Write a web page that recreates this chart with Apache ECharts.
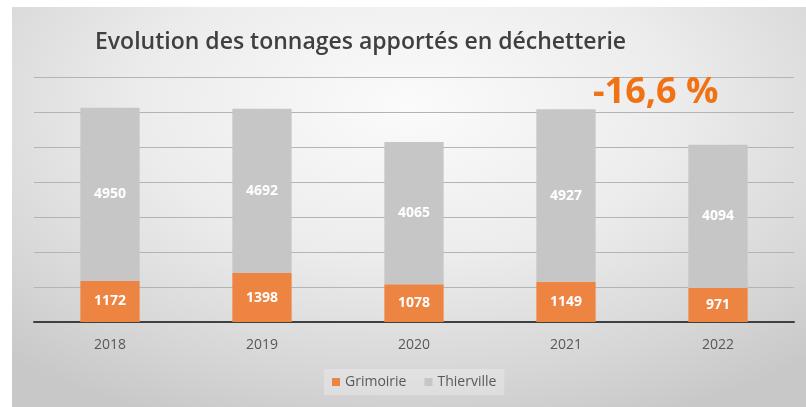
<!DOCTYPE html>
<html>
<head>
<meta charset="utf-8">
<script src="https://cdn.jsdelivr.net/npm/echarts@6/dist/echarts.min.js"></script>
<style>
  body { margin: 0; background: #fff; }
  #chart {
    position: absolute; left: 12px; top: 7px; width: 794px; height: 400px;
    background: radial-gradient(ellipse 75% 85% at 50% 25%, #fbfbfb 0%, #ececec 45%, #d6d6d6 80%, #c8c8c8 100%);
  }
</style>
</head>
<body>
<div id="chart"></div>
<script>
// data
const years = ['2018', '2019', '2020', '2021', '2022']
const grimoirie = [1172, 1398, 1078, 1149, 971]
const thierville = [4950, 4692, 4065, 4927, 4094]
const seriesNames = ['Grimoirie', 'Thierville']
const titleText = 'Evolution des tonnages apportés en déchetterie'
const noteText = '-16,6 %'

const myChart = echarts.init(document.getElementById('chart'))

const labelStyle = {
  show: true,
  position: 'inside',
  color: '#fff',
  fontFamily: 'Open Sans',
  fontWeight: 'bold',
  fontSize: 14
}

const option = {
  backgroundColor: 'transparent',
  animation: false,
  title: [
    {
      text: titleText,
      left: 78,
      top: 19,
      textStyle: { fontFamily: 'Open Sans', fontSize: 23, fontWeight: 600, color: '#404040' }
    },
    {
      text: noteText,
      left: 576,
      top: 63,
      textStyle: { fontFamily: 'Open Sans', fontSize: 36, fontWeight: 'bold', color: '#f07214' }
    }
  ],
  legend: {
    data: seriesNames,
    left: 312,
    top: 362,
    itemWidth: 8,
    itemHeight: 8,
    itemGap: 18,
    padding: [6, 8],
    backgroundColor: 'rgba(255,255,255,0.25)',
    icon: 'rect',
    textStyle: { fontFamily: 'Open Sans', fontSize: 14, color: '#595959' }
  },
  grid: { left: 22, right: 12, top: 70, bottom: 85 },
  xAxis: {
    type: 'category',
    data: years,
    axisLine: { lineStyle: { color: '#404040', width: 2 } },
    axisTick: { show: false },
    axisLabel: { margin: 16, fontFamily: 'Open Sans', fontSize: 14, color: '#595959' }
  },
  yAxis: {
    type: 'value',
    min: 0,
    max: 7000,
    interval: 1000,
    axisLabel: { show: false },
    axisLine: { show: false },
    axisTick: { show: false },
    splitLine: { lineStyle: { color: '#b4b4b4', width: 1 } }
  },
  series: [
    {
      name: seriesNames[0],
      type: 'bar',
      stack: 'total',
      barWidth: '39%',
      data: grimoirie,
      itemStyle: { color: '#ed8441' },
      label: labelStyle
    },
    {
      name: seriesNames[1],
      type: 'bar',
      stack: 'total',
      data: thierville,
      itemStyle: { color: '#c6c6c6' },
      label: labelStyle
    }
  ]
}

option && myChart.setOption(option)
</script>
</body>
</html>
